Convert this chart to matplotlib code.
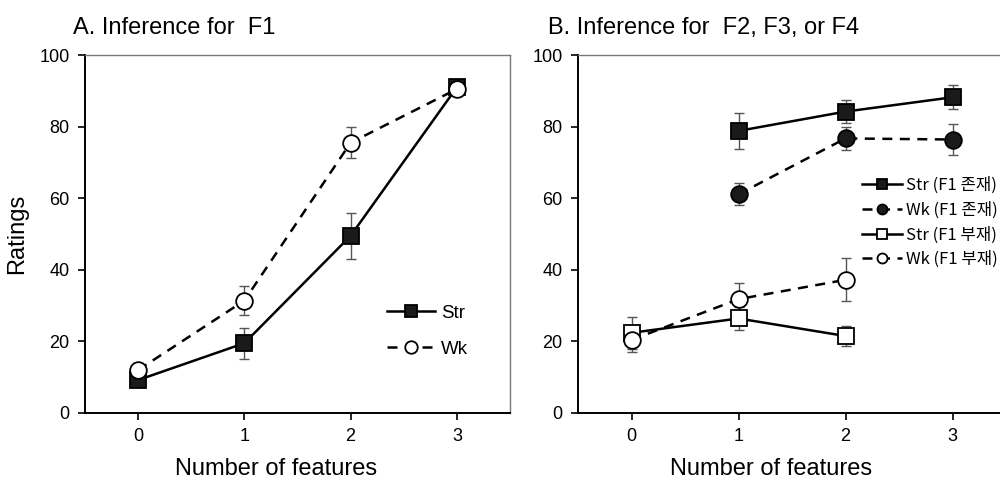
import numpy as np
import matplotlib
matplotlib.use("Agg")
import matplotlib.pyplot as plt

plt.rcParams["font.family"] = ["Liberation Sans Narrow", "Liberation Sans", "DejaVu Sans"]

# panel A data
feat_a = [0, 1, 2, 3]
str_a = [9.2, 19.5, 49.5, 91.0]
str_a_err = [1.5, 4.3, 6.4, 1.5]
wk_a = [12.0, 31.4, 75.5, 90.5]
wk_a_err = [2.0, 4.0, 4.4, 2.0]

# panel B data
feat_present = [1, 2, 3]
str_present = [78.8, 84.2, 88.2]
str_present_err = [5.0, 3.2, 3.3]
wk_present = [61.1, 76.7, 76.4]
wk_present_err = [3.1, 3.3, 4.4]
feat_absent = [0, 1, 2]
str_absent = [22.4, 26.4, 21.5]
str_absent_err = [4.4, 3.2, 2.8]
wk_absent = [20.4, 31.8, 37.2]
wk_absent_err = [3.3, 4.4, 6.0]

xticks = [0, 1, 2, 3]
yticks = [0, 20, 40, 60, 80, 100]

fig = plt.figure(figsize=(10, 4.87), dpi=100)
ax1 = fig.add_axes([0.085, 0.152, 0.425, 0.735])
ax2 = fig.add_axes([0.578, 0.152, 0.428, 0.735])

kr = ["Noto Sans CJK KR", "DejaVu Sans"]


def series(ax, x, y, err, marker, fill, ls, label):
    ax.errorbar(x, y, yerr=err, fmt="none", ecolor="#555555", elinewidth=1,
                capsize=3.5, capthick=1, zorder=2)
    ax.plot(x, y, color="black", ls=ls, lw=1.8, marker=marker, ms=12,
            mfc=fill, mec="black", mew=1.3, label=label, zorder=3,
            dashes=(4, 3) if ls == "--" else (None, None))


def style(ax):
    ax.set_xlim(-0.5, 3.5)
    ax.set_ylim(0, 100)
    ax.set_xticks(xticks)
    ax.set_yticks(yticks)
    ax.tick_params(direction="out", length=5, width=1.2, labelsize=13, pad=6)
    for s in ["left", "bottom"]:
        ax.spines[s].set_linewidth(1.4)
        ax.spines[s].set_color("black")
    for s in ["top", "right"]:
        ax.spines[s].set_linewidth(1.0)
        ax.spines[s].set_color("#777777")
    ax.set_xlabel("Number of features", fontsize=17)
    ax.xaxis.set_label_coords(0.45, -0.125)


series(ax1, feat_a, str_a, str_a_err, "s", "#1a1a1a", "-", "Str")
series(ax1, feat_a, wk_a, wk_a_err, "o", "white", "--", "Wk")
style(ax1)
ax1.set_ylabel("Ratings", fontsize=17, labelpad=8)
ax1.legend(loc="upper left", bbox_to_anchor=(0.67, 0.35), frameon=False,
           fontsize=13.5, handlelength=2.6, labelspacing=1.0, handletextpad=0.3,
           markerscale=0.75)

series(ax2, feat_present, str_present, str_present_err, "s", "#1a1a1a", "-", "Str (F1 존재)")
series(ax2, feat_present, wk_present, wk_present_err, "o", "#1a1a1a", "--", "Wk (F1 존재)")
series(ax2, feat_absent, str_absent, str_absent_err, "s", "white", "-", "Str (F1 부재)")
series(ax2, feat_absent, wk_absent, wk_absent_err, "o", "white", "--", "Wk (F1 부재)")
style(ax2)
leg = ax2.legend(loc="upper left", bbox_to_anchor=(0.862, 1 - 177 / 487),
                 bbox_transform=fig.transFigure, frameon=False,
                 prop={"family": kr, "size": 12}, handlelength=2.4,
                 labelspacing=0.45, handletextpad=0.25, markerscale=0.6,
                 borderaxespad=0, borderpad=0)

fig.text(0.073, 0.93, "A. Inference for  F1", fontsize=17, ha="left", va="baseline")
fig.text(0.548, 0.93, "B. Inference for  F2, F3, or F4", fontsize=17, ha="left", va="baseline")

fig.savefig("out.png", dpi=100)
